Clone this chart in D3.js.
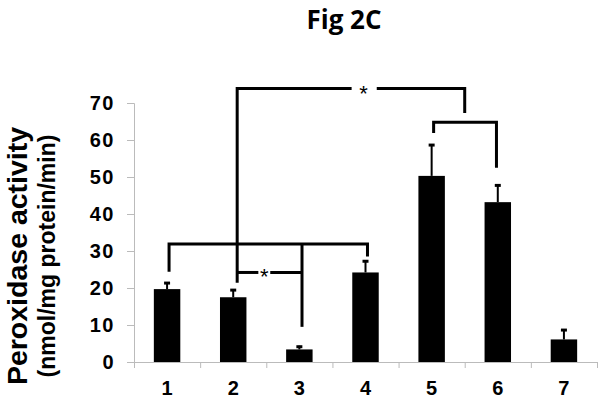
<!DOCTYPE html>
<html>
<head>
<meta charset="utf-8">
<script src="https://cdn.jsdelivr.net/npm/d3@7"></script>
<style>
  body { margin: 0; background: #fff; }
  svg { display: block; font-family: "Liberation Sans", Arial, sans-serif; }
</style>
</head>
<body>
<div id="chart"></div>
<script>
// groups and their means / upper error
const groups = ["1", "2", "3", "4", "5", "6", "7"];
const means = [19.7, 17.5, 3.4, 24.2, 50.3, 43.2, 6.1];
const errors = [1.9, 2.2, 1.0, 3.3, 8.6, 4.8, 2.8];
const yTicks = [0, 10, 20, 30, 40, 50, 60, 70];

// significance brackets, as [group position, value] pairs (1 = first group)
const brackets = [
  [[2.06, 21.4], [2.06, 73.9], [3.79, 73.9]],
  [[4.17, 73.9], [5.5, 73.9], [5.5, 67.3]],
  [[5.03, 61.9], [5.03, 64.8], [5.98, 64.8], [5.98, 52.5]],
  [[1.03, 24.4], [1.03, 31.9], [4.03, 31.9], [4.03, 28.5]],
  [[3.04, 31.9], [3.04, 9.5]],
  [[2.06, 24.2], [2.38, 24.2]],
  [[2.56, 24.2], [3.04, 24.2]]
];
const stars = [[3.97, 73.9], [2.47, 24.2]];

const width = 604;
const height = 403;
const margin = { top: 103, right: 7, bottom: 41, left: 134 };

const svg = d3.select("#chart")
  .append("svg")
  .attr("width", width)
  .attr("height", height);

const x = d3.scaleBand()
  .domain(groups)
  .range([margin.left, width - margin.right])
  .paddingInner(0.6)
  .paddingOuter(0.3);

// group position -> pixel (band centres)
const xPos = d3.scaleLinear()
  .domain([0.5, groups.length + 0.5])
  .range([margin.left, width - margin.right]);

const y = d3.scaleLinear()
  .domain([0, 70])
  .range([height - margin.bottom, margin.top]);

// title
svg.append("text")
  .attr("x", 344)
  .attr("y", 29)
  .attr("text-anchor", "middle")
  .style("font-family", "'Open Sans', sans-serif")
  .style("font-weight", "bold")
  .style("font-size", "26px")
  .text("Fig 2C");

// y axis
const yAxis = svg.append("g")
  .attr("transform", `translate(${margin.left},0)`)
  .call(d3.axisLeft(y).tickValues(yTicks).tickSize(7).tickPadding(12));
yAxis.select(".domain").attr("stroke", "#bbb");
yAxis.selectAll(".tick line").attr("stroke", "#bbb");
yAxis.selectAll("text")
  .style("font-size", "20px")
  .style("letter-spacing", "1.5px")
  .style("font-weight", "bold")
  .style("font-family", "'Liberation Sans', Arial, sans-serif");

// x axis: ticks at group boundaries
const xTickAxis = svg.append("g")
  .attr("transform", `translate(0,${y(0)})`)
  .call(d3.axisBottom(xPos)
    .tickValues(d3.range(0.5, groups.length + 1, 1))
    .tickFormat("")
    .tickSize(6)
    .tickSizeOuter(0));
xTickAxis.select(".domain").attr("stroke", "#bbb");
xTickAxis.selectAll(".tick line").attr("stroke", "#bbb");

const xAxis = svg.append("g")
  .attr("transform", `translate(0,${y(0)})`)
  .call(d3.axisBottom(x).tickSize(0).tickPadding(19));
xAxis.select(".domain").remove();
xAxis.selectAll("text")
  .style("font-size", "20px")
  .style("font-weight", "bold")
  .style("font-family", "'Liberation Sans', Arial, sans-serif");

// axis titles
svg.append("text")
  .attr("transform", "translate(27,256) rotate(-90)")
  .attr("text-anchor", "middle")
  .style("font-size", "28.5px")
  .style("font-weight", "bold")
  .text("Peroxidase activity");

svg.append("text")
  .attr("transform", "translate(55,256) rotate(-90)")
  .attr("text-anchor", "middle")
  .style("font-size", "23px")
  .style("font-weight", "bold")
  .text("(nmol/mg protein/min)");

const rows = groups.map((g, i) => ({ g, mean: means[i], err: errors[i] }));

// error bars (upper only)
const err = svg.append("g").attr("class", "errors");
err.selectAll("line.stem")
  .data(rows)
  .join("line")
  .attr("class", "stem")
  .attr("x1", (d) => x(d.g) + x.bandwidth() / 2)
  .attr("x2", (d) => x(d.g) + x.bandwidth() / 2)
  .attr("y1", (d) => y(d.mean))
  .attr("y2", (d) => y(d.mean + d.err))
  .attr("stroke", "#000")
  .attr("stroke-width", 2);
err.selectAll("line.cap")
  .data(rows)
  .join("line")
  .attr("class", "cap")
  .attr("x1", (d) => x(d.g) + x.bandwidth() / 2 - 3)
  .attr("x2", (d) => x(d.g) + x.bandwidth() / 2 + 3)
  .attr("y1", (d) => y(d.mean + d.err) + 1)
  .attr("y2", (d) => y(d.mean + d.err) + 1)
  .attr("stroke", "#000")
  .attr("stroke-width", 3);

// bars
svg.append("g")
  .selectAll("rect")
  .data(rows)
  .join("rect")
  .attr("x", (d) => x(d.g))
  .attr("y", (d) => y(d.mean))
  .attr("width", x.bandwidth())
  .attr("height", (d) => y(0) - y(d.mean))
  .attr("fill", "#000");

// significance brackets
const line = d3.line()
  .x((d) => xPos(d[0]))
  .y((d) => y(d[1]));

svg.append("g")
  .selectAll("path")
  .data(brackets)
  .join("path")
  .attr("d", line)
  .attr("fill", "none")
  .attr("stroke", "#000")
  .attr("stroke-width", 3)
  .attr("stroke-linejoin", "miter");

svg.append("g")
  .selectAll("text")
  .data(stars)
  .join("text")
  .attr("x", (d) => xPos(d[0]))
  .attr("y", (d) => y(d[1]) + 12)
  .attr("text-anchor", "middle")
  .style("font-size", "22px")
  .style("font-family", "'Liberation Sans', Arial, sans-serif")
  .text("*");
</script>
</body>
</html>
